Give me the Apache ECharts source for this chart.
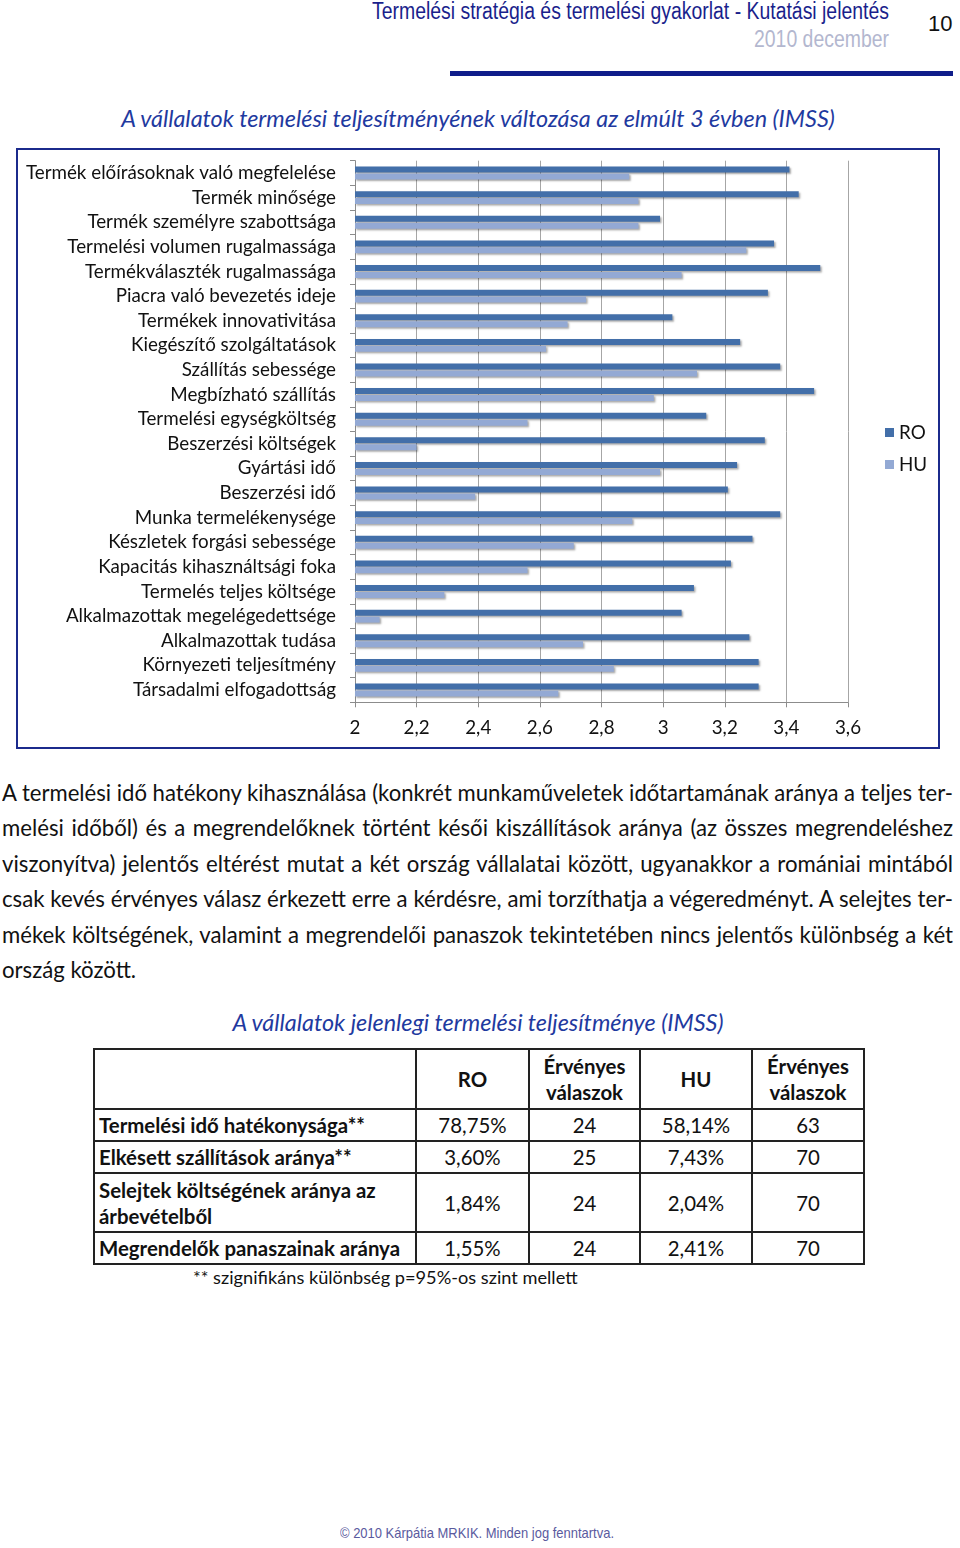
<!DOCTYPE html>
<html><head><meta charset="utf-8">
<script src="https://cdn.jsdelivr.net/npm/echarts@6/dist/echarts.min.js"></script>
<style>
html,body{margin:0;padding:0;background:#fff;}
body{width:960px;height:1548px;position:relative;overflow:hidden;font-family:Lato,"Open Sans",sans-serif;}
.abs{position:absolute;white-space:nowrap;}
.fit{display:inline-block;transform-origin:0 50%;}
#hdr{left:372px;top:-2px;font-family:"Liberation Sans",Arial,sans-serif;font-size:23px;color:#1a1f8c;}
#date{top:26px;font-family:"Liberation Sans",Arial,sans-serif;font-size:23px;color:#b3b7cf;}
#pg{left:928px;top:11px;font-family:"Liberation Sans",Arial,sans-serif;font-size:22px;color:#111;}
#rule{position:absolute;left:450px;top:71px;width:503px;height:5px;background:#0f1d8a;}
.ttl{position:absolute;left:0;width:956px;text-align:center;font-style:italic;color:#1f3a9f;font-size:23.4px;}
#box{position:absolute;left:16px;top:148px;width:924px;height:601px;border:2px solid #1b2a8c;box-sizing:border-box;}
#chart{width:920px;height:597px;}
.pl{position:absolute;left:2px;font-size:22.2px;color:#111;white-space:nowrap;}
table{position:absolute;left:93px;top:1048px;border-collapse:collapse;table-layout:fixed;width:770px;font-size:20.4px;color:#111;}
td{border:2px solid #222;padding:0 4px;text-align:center;line-height:26px;overflow:hidden;}
td.l{text-align:left;font-weight:bold;}
th{border:2px solid #222;font-weight:bold;line-height:26px;padding:0;}
#foot{top:1525px;font-family:"Liberation Sans",Arial,sans-serif;font-size:14.5px;color:#5a5a9e;}
</style></head><body>
<div class="abs" id="hdr"><span class="fit" data-w="517">Termelési stratégia és termelési gyakorlat - Kutatási jelentés</span></div>
<div class="abs" id="date" style="left:754px"><span class="fit" data-w="135">2010 december</span></div>
<div class="abs" id="pg">10</div>
<div id="rule"></div>
<div class="ttl" style="top:104px">A vállalatok termelési teljesítményének változása az elmúlt 3 évben (IMSS)</div>
<div id="box"><div id="chart"></div></div>
<div id="para"></div>
<div class="ttl" style="top:1008px">A vállalatok jelenlegi termelési teljesítménye (IMSS)</div>
<table id="tbl"></table>
<div class="abs" style="left:193px;top:1266px;font-size:18.2px;color:#111;">** szignifikáns különbség p=95%-os szint mellett</div>
<div class="abs" id="foot" style="left:340px"><span class="fit" data-w="274">© 2010 Kárpátia MRKIK. Minden jog fenntartva.</span></div>
<script>
const categories = [
 "Termék előírásoknak való megfelelése","Termék minősége","Termék személyre szabottsága",
 "Termelési volumen rugalmassága","Termékválaszték rugalmassága","Piacra való bevezetés ideje",
 "Termékek innovativitása","Kiegészítő szolgáltatások","Szállítás sebessége","Megbízható szállítás",
 "Termelési egységköltség","Beszerzési költségek","Gyártási idő","Beszerzési idő",
 "Munka termelékenysége","Készletek forgási sebessége","Kapacitás kihasználtsági foka",
 "Termelés teljes költsége","Alkalmazottak megelégedettsége","Alkalmazottak tudása",
 "Környezeti teljesítmény","Társadalmi elfogadottság"];
const ro = [3.41,3.44,2.99,3.36,3.51,3.34,3.03,3.25,3.38,3.49,3.14,3.33,3.24,3.21,3.38,3.29,3.22,3.10,3.06,3.28,3.31,3.31];
const hu = [2.89,2.92,2.92,3.27,3.06,2.75,2.69,2.62,3.11,2.97,2.56,2.20,2.99,2.39,2.90,2.71,2.56,2.29,2.08,2.74,2.84,2.66];
const xTicks = {min:2, max:3.6, interval:0.2};
const tableHead = ["", "RO", "Érvényes<br>válaszok", "HU", "Érvényes<br>válaszok"];
const tableRows = [
 ["Termelési idő hatékonysága**","78,75%","24","58,14%","63"],
 ["Elkésett szállítások aránya**","3,60%","25","7,43%","70"],
 ["Selejtek költségének aránya az<br>árbevételből","1,84%","24","2,04%","70"],
 ["Megrendelők panaszainak aránya","1,55%","24","2,41%","70"]];
const paraLines = [
 "A termelési idő hatékony kihasználása (konkrét munkaműveletek időtartamának aránya a teljes ter-",
 "melési időből) és a megrendelőknek történt késői kiszállítások aránya (az összes megrendeléshez",
 "viszonyítva) jelentős eltérést mutat a két ország vállalatai között, ugyanakkor a romániai mintából",
 "csak kevés érvényes válasz érkezett erre a kérdésre, ami torzíthatja a végeredményt. A selejtes ter-",
 "mékek költségének, valamint a megrendelői panaszok tekintetében nincs jelentős különbség a két",
 "ország között."];

// paragraph
const para = document.getElementById('para');
paraLines.forEach((t,i)=>{
  const d=document.createElement('div');d.className='pl';d.style.top=(779+i*35.4)+'px';
  const s=document.createElement('span');s.className='fit';s.textContent=t;d.appendChild(s);para.appendChild(d);
  const T=951, w=s.getBoundingClientRect().width;
  if(i<paraLines.length-1){
    if(w>T){s.style.transform='scaleX('+(T/w)+')';}
    else{const n=(t.match(/ /g)||[]).length; s.style.wordSpacing=((T-w)/n)+'px';}
  }
});
// table
const tbl=document.getElementById('tbl');
const widths=[322,113,111,112,112];
const heights=[60,32,32,59,32];
let h='<colgroup>'+widths.map(w=>'<col style="width:'+w+'px">').join('')+'</colgroup>';
h+='<tr style="height:'+heights[0]+'px">'+tableHead.map(c=>'<th>'+c+'</th>').join('')+'</tr>';
tableRows.forEach((r,i)=>{h+='<tr style="height:'+heights[i+1]+'px">'+r.map((c,j)=>'<td'+(j==0?' class="l"':'')+'>'+c+'</td>').join('')+'</tr>';});
tbl.innerHTML=h;
// fit helpers
document.querySelectorAll('.fit[data-w]').forEach(s=>{const w=s.getBoundingClientRect().width;s.style.transform='scaleX('+(+s.dataset.w/w)+')';});

const chart=echarts.init(document.getElementById('chart'),null,{renderer:'canvas'});
const font='Lato';
chart.setOption({
 animation:false,
 grid:{left:337,right:90,top:10.7,bottom:44.7,containLabel:false},
 legend:{orient:'vertical',left:862,top:268,itemWidth:9,itemHeight:9,itemGap:13,icon:'rect',
   textStyle:{fontFamily:font,fontSize:18.8,color:'#111'},data:['RO','HU']},
 xAxis:{type:'value',min:xTicks.min,max:xTicks.max,interval:xTicks.interval,
   axisLine:{show:true,lineStyle:{color:'#8c8c8c'}},
   axisTick:{show:true,length:5,lineStyle:{color:'#8c8c8c'}},
   splitLine:{show:true,lineStyle:{color:'#a6a6a6',width:1}},
   axisLabel:{fontFamily:font,fontSize:18.8,color:'#111',margin:16,
     formatter:v=>String(Math.round(v*10)/10).replace('.',',')}},
 yAxis:{type:'category',data:categories,inverse:true,
   axisLine:{show:true,lineStyle:{color:'#8c8c8c'}},
   axisTick:{show:true,length:5,interval:0,lineStyle:{color:'#8c8c8c'}},
   axisLabel:{fontFamily:font,fontSize:18.8,color:'#111',margin:19,interval:0,hideOverlap:false}},
 series:[
  {name:'RO',type:'bar',data:ro,barWidth:6,barGap:'15%',
   itemStyle:{color:'#436fa9',shadowColor:'rgba(0,0,0,0.35)',shadowBlur:2,shadowOffsetX:1.5,shadowOffsetY:1.5}},
  {name:'HU',type:'bar',data:hu,barWidth:6,
   itemStyle:{color:'#93a9d4',shadowColor:'rgba(0,0,0,0.35)',shadowBlur:2,shadowOffsetX:1.5,shadowOffsetY:1.5}}
 ]
});
</script>
</body></html>
